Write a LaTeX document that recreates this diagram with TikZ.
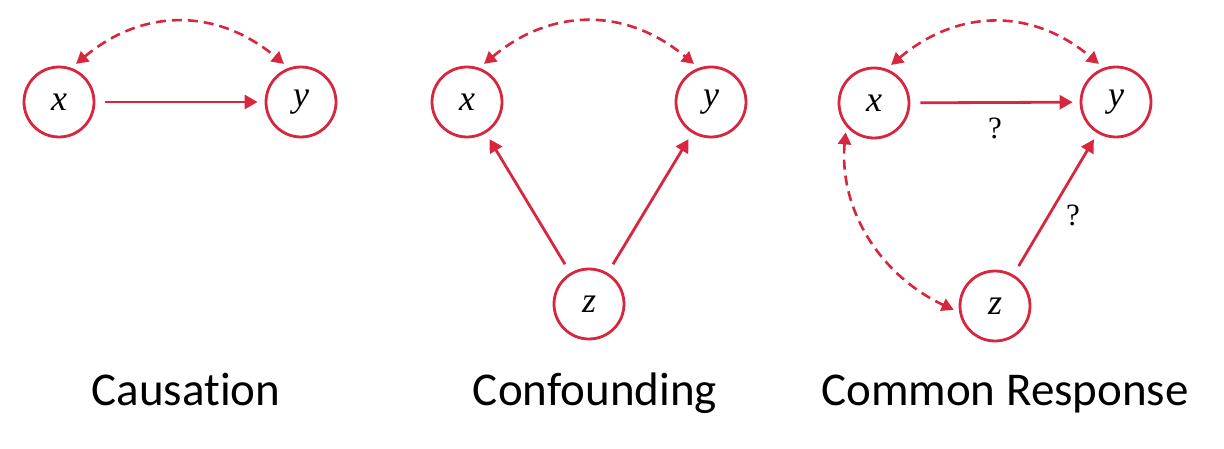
\documentclass[tikz,border=0pt]{standalone}
\usepackage{fontspec}
\usepackage{xcolor}
\usetikzlibrary{positioning,arrows.meta}
\newfontfamily\capfont[Ligatures=NoCommon]{Carlito}
\newfontfamily\varfont{Liberation Serif}
\definecolor{linkred}{HTML}{D7263D}
\tikzset{
  var/.style={
    circle, draw=linkred, line width=2.8pt, minimum size=70pt,
    inner sep=0pt, font=\varfont\itshape\fontsize{36}{40}\selectfont,
  },
  cause/.style ={-{Triangle[length=13pt,width=14pt]}, draw=linkred,
                 line width=2.8pt, shorten <=10pt, shorten >=7pt},
  assoc/.style ={{Triangle[length=12pt,width=13pt]}-{Triangle[length=12pt,width=13pt]},
                 draw=linkred, line width=2.6pt, dash pattern=on 10pt off 6pt,
                 shorten <=6pt, shorten >=6pt},
  caption/.style={font=\capfont\fontsize{47}{56}\selectfont, anchor=base,
                  inner sep=0pt},
  qmark/.style ={font=\varfont\fontsize{31}{36}\selectfont, inner sep=0pt},
}

\begin{document}
\begin{tikzpicture}[x=1pt, y=1pt]
\useasboundingbox (0,0) rectangle (1224,448);

% ============================================ causation
\node[var] (x1) at (59,346)  {x};
\node[var] (y1) at (301,346) {y};
\draw[cause] (x1) -- (y1);
\draw[assoc] (x1.70) to[out=40, in=140, looseness=1.1] (y1.110);
\node[caption] (cap1) at (186,43) {Causation};

% ============================================ confounding
\node[var] (x2) at (467,346) {x};
\node[var] (y2) at (711,346) {y};
\node[var] (z2) at (589,144) {z};
\draw[cause] (z2) -- (x2);
\draw[cause] (z2) -- (y2);
\draw[assoc] (x2.70) to[out=40, in=140, looseness=1.1] (y2.110);
\node[caption] (cap2) at (595,43) {Confounding};

% ============================================ common response
\node[var] (x3) at (874,345)  {x};
\node[var] (y3) at (1116,346) {y};
\node[var] (z3) at (995,142)  {z};
\draw[cause] (x3) -- node[qmark, below=14pt] (q1) {?} (y3);
\draw[cause] (z3) -- node[qmark, pos=0.42, right=16pt] (q2) {?} (y3);
\draw[assoc] (x3.70) to[out=40, in=140, looseness=1.1] (y3.110);
\draw[assoc] (x3.220) to[out=265, in=155] (z3.190);
\node[caption] (cap3) at (1005,43) {Common Response};

\end{tikzpicture}
\end{document}
